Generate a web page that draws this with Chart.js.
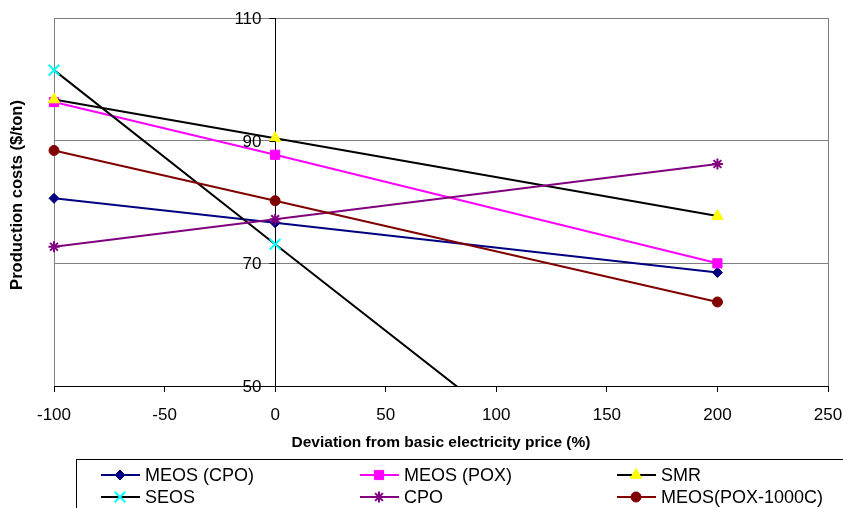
<!DOCTYPE html>
<html lang="en">
<head>
    <meta charset="UTF-8">
    <title>Production costs vs electricity price</title>
    <script src="https://cdn.jsdelivr.net/npm/chart.js"></script>
    <style>
        html, body {
            margin: 0;
            padding: 0;
            background: #ffffff;
        }

        .chart-container {
            position: relative;
            width: 843px;
            height: 508px;
        }
    </style>
</head>
<body>

    <div class="chart-container">
        <canvas id="costChart"></canvas>
    </div>

    <script>
        // Data
        const deviation = [-100, 0, 200];
        const meosCpo = [80.6, 76.6, 68.5];
        const meosPox = [96.3, 87.7, 70.0];
        const smr = [96.7, 90.4, 77.7];
        const seos = [101.5, 73.1, 16.7];
        const cpo = [72.7, 77.2, 86.2];
        const meosPox1000 = [88.4, 80.2, 63.7];

        const seriesNames = ["MEOS (CPO)", "MEOS (POX)", "SMR", "SEOS", "CPO", "MEOS(POX-1000C)"];
        const xTicks = [-100, -50, 0, 50, 100, 150, 200, 250];
        const yTicks = [50, 70, 90, 110];

        const FONT = "'Liberation Sans', Arial, sans-serif";

        function toPoints(values) {
            return deviation.map((x, i) => ({ x: x, y: values[i] }));
        }

        function series(idx, values, lineColor, markerColor, style, radius) {
            return {
                label: seriesNames[idx],
                data: toPoints(values),
                order: 10 - idx, // later series on top, like the original
                borderColor: lineColor,
                borderWidth: 2,
                pointStyle: style,
                pointRadius: radius,
                pointHoverRadius: radius,
                pointBackgroundColor: markerColor,
                pointBorderColor: markerColor,
                pointBorderWidth: (style === 'crossRot' || style === 'star') ? 2 : 1,
                fill: false,
                tension: 0,
                clip: { left: 12, top: 12, right: 12, bottom: 0 }
            };
        }

        const datasets = [
            series(0, meosCpo, "#000080", "#000080", "rectRot", 5),
            series(1, meosPox, "#ff00ff", "#ff00ff", "rect", 6.5),
            series(2, smr, "#000000", "#ffff00", "triangle", 6.5),
            series(3, seos, "#000000", "#00ffff", "crossRot", 7.5),
            series(4, cpo, "#800080", "#800080", "star", 5.5),
            series(5, meosPox1000, "#800000", "#800000", "circle", 5)
        ];

        function marker(c, ds, x, y) {
            c.fillStyle = ds.pointBackgroundColor;
            c.strokeStyle = ds.pointBorderColor;
            c.lineWidth = ds.pointBorderWidth;
            Chart.helpers.drawPoint(c, {
                pointStyle: ds.pointStyle,
                radius: ds.pointRadius,
                borderWidth: ds.pointBorderWidth,
                rotation: 0
            }, x, y);
        }

        // y tick labels left of the x=0 axis
        const yLabels = {
            id: 'yLabels',
            afterDatasetsDraw(chart) {
                const c = chart.ctx;
                const ys = chart.scales.y;
                const ax = Math.round(chart.scales.x.getPixelForValue(0)) + 0.5;
                c.save();
                c.strokeStyle = "#000";
                c.lineWidth = 1;
                c.fillStyle = "#000";
                c.font = "17px " + FONT;
                c.textAlign = "right";
                c.textBaseline = "middle";
                yTicks.forEach(v => {
                    const py = Math.round(ys.getPixelForValue(v)) + 0.5;
                    c.beginPath();
                    c.moveTo(ax - 6, py);
                    c.lineTo(ax, py);
                    c.stroke();
                    c.fillText(String(v), ax - 14, py + 1);
                });
                c.restore();
            }
        };

        // y title and the boxed legend underneath
        const extras = {
            id: 'extras',
            afterDraw(chart) {
                const c = chart.ctx;
                c.save();

                c.translate(17, 195);
                c.rotate(-Math.PI / 2);
                c.font = "bold 16.5px " + FONT;
                c.fillStyle = "#000";
                c.textAlign = "center";
                c.textBaseline = "middle";
                c.fillText("Production costs ($/ton)", 0, 0);
                c.setTransform(1, 0, 0, 1, 0, 0);

                c.strokeStyle = "#000";
                c.lineWidth = 1;
                c.strokeRect(76.5, 459.5, 800, 80);

                const colX = [101, 360, 617];
                const rowY = [475, 497];
                c.font = "18px " + FONT;
                c.textAlign = "left";
                c.textBaseline = "middle";
                chart.data.datasets.forEach((ds, i) => {
                    const x = colX[i % 3];
                    const y = rowY[Math.floor(i / 3)];
                    c.beginPath();
                    c.strokeStyle = ds.borderColor;
                    c.lineWidth = 2;
                    c.moveTo(x, y);
                    c.lineTo(x + 39, y);
                    c.stroke();
                    marker(c, ds, x + 19, y);
                    c.fillStyle = "#000";
                    c.fillText(ds.label, x + 44, y + 1);
                });
                c.restore();
            }
        };

        const ctx = document.getElementById('costChart').getContext('2d');

        const costChart = new Chart(ctx, {
            type: 'line',
            data: { datasets: datasets },
            options: {
                responsive: true,
                maintainAspectRatio: false,
                animation: false,
                layout: {
                    padding: { left: 54, top: 18, right: 15, bottom: 58 }
                },
                plugins: {
                    legend: { display: false },
                    tooltip: { enabled: false }
                },
                scales: {
                    x: {
                        type: 'linear',
                        min: xTicks[0],
                        max: xTicks[xTicks.length - 1],
                        afterBuildTicks: (scale) => {
                            scale.ticks = xTicks.map(v => ({ value: v }));
                        },
                        afterFit: (scale) => {
                            scale.height = 64;
                            scale.paddingLeft = 0;
                            scale.paddingRight = 0;
                        },
                        grid: {
                            color: (c) => (c.tick && (c.tick.value === -100 || c.tick.value === 250)) ? '#808080' : 'rgba(0,0,0,0)',
                            tickColor: '#000',
                            tickLength: 6,
                            lineWidth: 1
                        },
                        border: { color: '#000', width: 1 },
                        ticks: {
                            color: '#000',
                            padding: 13,
                            maxRotation: 0,
                            font: { family: FONT, size: 17 }
                        },
                        title: {
                            display: true,
                            text: 'Deviation from basic electricity price (%)',
                            color: '#000',
                            font: { family: FONT, size: 15.5, weight: 'bold' },
                            padding: { top: 0, bottom: -2 }
                        }
                    },
                    y: {
                        type: 'linear',
                        position: { x: 0 },
                        min: yTicks[0],
                        max: yTicks[yTicks.length - 1],
                        afterBuildTicks: (scale) => {
                            scale.ticks = yTicks.map(v => ({ value: v }));
                        },
                        afterFit: (scale) => {
                            scale.width = 0;
                        },
                        grid: {
                            color: '#808080',
                            drawTicks: false,
                            lineWidth: 1
                        },
                        border: { color: '#000', width: 1 },
                        ticks: { display: false }
                    }
                }
            },
            plugins: [yLabels, extras]
        });
    </script>

</body>
</html>
